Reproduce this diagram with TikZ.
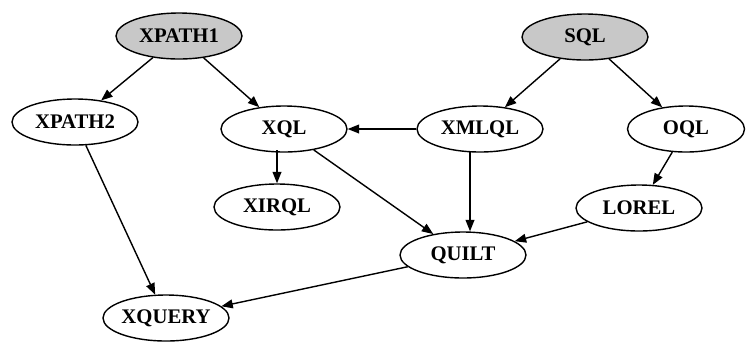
\documentclass[tikz,border=0pt]{standalone}
\usepackage{fontspec}
\setmainfont{Liberation Serif}
\usepackage{tikz}
\usetikzlibrary{shapes.geometric, arrows.meta}

\definecolor{rootgray}{RGB}{200, 200, 200}

\tikzset{
  lang/.style={draw, ellipse, line width=0.8pt, minimum width=2.52cm, minimum height=0.92cm,
    inner sep=0pt, font=\fontsize{11.8}{13}\selectfont\bfseries},
  rootlang/.style={lang, fill=rootgray},
  dep/.style={-{Triangle[length=6.5pt,width=5pt]}, line width=0.8pt}
}

\begin{document}
\begin{tikzpicture}[x=0.02cm, y=-0.02cm]
  \useasboundingbox (0,0) rectangle (746,343);

  % Roots
  \node[rootlang] (xpath1) at (179, 36) {XPATH1};
  \node[rootlang] (sql) at (585, 37) {SQL};

  % Second row
  \node[lang] (xpath2) at (75, 122) {XPATH2};
  \node[lang] (xql) at (284, 129) {XQL};
  \node[lang] (xmlql) at (480, 129) {XMLQL};
  \node[lang, minimum width=2.34cm] (oql) at (686, 129) {OQL};

  % Lower rows
  \node[lang] (xirql) at (277, 207) {XIRQL};
  \node[lang] (lorel) at (639, 208) {LOREL};
  \node[lang] (quilt) at (463, 255) {QUILT};
  \node[lang] (xquery) at (166, 318) {XQUERY};

  % Straight drops
  \coordinate (dropa) at (277, 150);
  \coordinate (dropb) at (470, 151);

  % Dependencies
  \draw[dep] (xpath1) -- (xpath2);
  \draw[dep] (xpath1) -- (xql);
  \draw[dep] (sql) -- (xmlql);
  \draw[dep] (sql) -- (oql);
  \draw[dep] (xmlql) -- (xql);
  \draw[dep] (dropa) -- (dropa |- xirql.north);
  \draw[dep] (xql) -- (quilt);
  \draw[dep] (dropb) -- (dropb |- quilt.north);
  \draw[dep] (oql) -- (lorel);
  \draw[dep] (lorel) -- (quilt);
  \draw[dep] (xpath2) -- (xquery);
  \draw[dep] (quilt) -- (xquery);
\end{tikzpicture}
\end{document}
